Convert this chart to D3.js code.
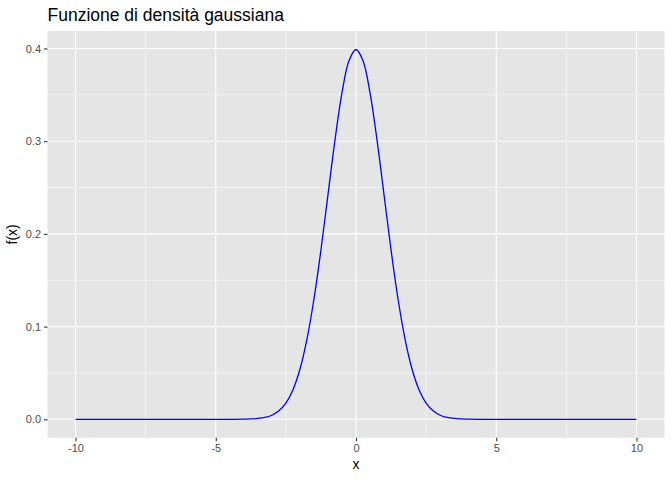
<!DOCTYPE html>
<html><head><meta charset="utf-8">
<script src="https://cdn.jsdelivr.net/npm/d3@7"></script>
<style>body{margin:0;background:#fff}svg{display:block}text{font-family:"Liberation Sans",Arial,sans-serif}</style>
</head><body>
<script>
// Values
const xValues = [-10, -7.5, -5, -4.5, -4, -3.75, -3.5, -3.25, -3, -2.75, -2.5, -2.25, -2, -1.75, -1.5, -1.25, -1, -0.75, -0.5, -0.25, 0, 0.25, 0.5, 0.75, 1, 1.25, 1.5, 1.75, 2, 2.25, 2.5, 2.75, 3, 3.25, 3.5, 3.75, 4, 4.5, 5, 7.5, 10];
const yValues = [0, 0, 0, 0, 0.0001, 0.0004, 0.0009, 0.0020, 0.0044, 0.0091, 0.0175, 0.0317, 0.0540, 0.0863, 0.1295, 0.1826, 0.2420, 0.3011, 0.3521, 0.3867, 0.3989, 0.3867, 0.3521, 0.3011, 0.2420, 0.1826, 0.1295, 0.0863, 0.0540, 0.0317, 0.0175, 0.0091, 0.0044, 0.0020, 0.0009, 0.0004, 0.0001, 0, 0, 0, 0];
const xTicks = [-10, -5, 0, 5, 10];
const xMinor = [-7.5, -2.5, 2.5, 7.5];
const yTicks = [0, 0.1, 0.2, 0.3, 0.4];
const yMinor = [0.05, 0.15, 0.25, 0.35];
const titleText = "Funzione di densità gaussiana";

const W = 672, H = 480;
const L = 47.5, R = 664.5, T = 31, B = 437.8;
const svg = d3.select("body").append("svg").attr("width", W).attr("height", H);

const x = d3.scaleLinear().domain([-11, 11]).range([L, R]);
const yMax = 0.3989, yPad = yMax * 0.05;
const y = d3.scaleLinear().domain([-yPad, yMax + yPad]).range([B, T]);

svg.append("rect").attr("x", L).attr("y", T).attr("width", R - L).attr("height", B - T).attr("fill", "#E5E5E5");

const g = svg.append("g");
g.selectAll(".xm").data(xMinor).join("line").attr("x1", d => x(d)).attr("x2", d => x(d)).attr("y1", T).attr("y2", B).attr("stroke", "#fff").attr("stroke-width", 0.55);
g.selectAll(".ym").data(yMinor).join("line").attr("y1", d => y(d)).attr("y2", d => y(d)).attr("x1", L).attr("x2", R).attr("stroke", "#fff").attr("stroke-width", 0.55);
g.selectAll(".xM").data(xTicks).join("line").attr("x1", d => x(d)).attr("x2", d => x(d)).attr("y1", T).attr("y2", B).attr("stroke", "#fff").attr("stroke-width", 1.1);
g.selectAll(".yM").data(yTicks).join("line").attr("y1", d => y(d)).attr("y2", d => y(d)).attr("x1", L).attr("x2", R).attr("stroke", "#fff").attr("stroke-width", 1.1);

const pts = xValues.map((v, i) => [v, yValues[i]]);
const line = d3.line().x(d => x(d[0])).y(d => y(d[1])).curve(d3.curveCatmullRom.alpha(0.5));
svg.append("path").attr("d", line(pts)).attr("fill", "none").attr("stroke", "#0000FF").attr("stroke-width", 1.3);

// axes
const xAxis = d3.axisBottom(x).tickValues(xTicks).tickSize(3.5).tickPadding(3).tickFormat(d3.format("d"));
const xa = svg.append("g").attr("transform", `translate(0,${B})`).call(xAxis);
const yAxis = d3.axisLeft(y).tickValues(yTicks).tickSize(3.5).tickPadding(3).tickFormat(d3.format(".1f"));
const ya = svg.append("g").attr("transform", `translate(${L},0)`).call(yAxis);
[xa, ya].forEach(a => {
  a.select(".domain").remove();
  a.selectAll(".tick line").attr("stroke", "#333333").attr("stroke-width", 1.1);
  a.selectAll(".tick text").attr("fill", "#4D4D4D").style("font-size", "11px");
});
xa.selectAll(".tick text").text(d => d < 0 ? "-" + Math.abs(d) : d);

svg.append("text").attr("x", (L + R) / 2).attr("y", 469).attr("text-anchor", "middle").style("font-size", "14px").attr("fill", "#000").text("x");
svg.append("text").attr("transform", `translate(17,${(T + B) / 2}) rotate(-90)`).attr("text-anchor", "middle").style("font-size", "14px").attr("fill", "#000").text("f(x)");
svg.append("text").attr("x", L).attr("y", 21).style("font-size", "17.5px").attr("fill", "#000").text(titleText);
</script>
</body></html>
